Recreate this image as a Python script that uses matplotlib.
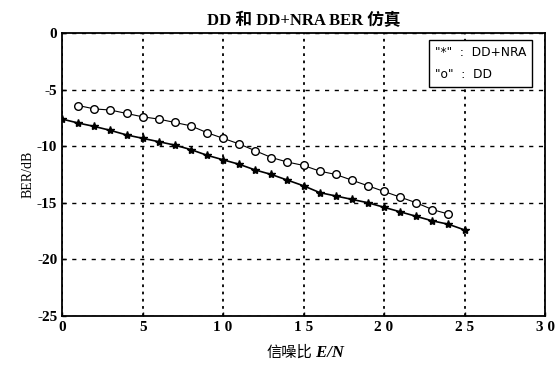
import numpy as np
import matplotlib
matplotlib.use('Agg')
import matplotlib.pyplot as plt

plt.rcParams['font.family'] = ['Liberation Serif', 'Noto Sans CJK SC', 'DejaVu Sans']

# datos
x_nra = list(range(0, 26))
ber_nra = [-7.6, -7.95, -8.25, -8.6, -9.0, -9.3, -9.6, -9.9, -10.3, -10.8,
           -11.2, -11.6, -12.1, -12.5, -13.0, -13.5, -14.1, -14.4, -14.7, -15.0,
           -15.4, -15.8, -16.2, -16.6, -16.9, -17.4]
x_dd = list(range(1, 25))
ber_dd = [-6.4, -6.7, -6.8, -7.1, -7.4, -7.6, -7.9, -8.2, -8.8, -9.3,
          -9.8, -10.4, -11.0, -11.4, -11.7, -12.2, -12.5, -13.0, -13.5, -14.0,
          -14.5, -15.0, -15.6, -16.0]
xticks = [0, 5, 10, 15, 20, 25, 30]
xtick_labels = ['0', '5', '1 0', '1 5', '2 0', '2 5', '3 0']
yticks = [0, -5, -10, -15, -20, -25]

fig = plt.figure(figsize=(5.55, 3.81), dpi=100)
ax = fig.add_axes([0.112, 0.171, 0.870, 0.742])

ax.plot(x_nra, ber_nra, 'k-', linewidth=1.2, marker='*', markersize=6,
        markerfacecolor='k', markeredgecolor='k')
ax.plot(x_dd, ber_dd, 'k-', linewidth=0.8, marker='o', markersize=5.5,
        markerfacecolor='white', markeredgecolor='k', markeredgewidth=1.0)

ax.set_xlim(0, 30)
ax.set_ylim(-25, 0)
ax.set_xticks(xticks)
ax.set_xticklabels(xtick_labels, fontsize=11, fontweight='bold')
ax.set_yticks(yticks)
ax.set_yticklabels([str(v) for v in yticks], fontsize=11, fontweight='bold')
ax.tick_params(direction='in', length=3, width=1, colors='k')

ax.xaxis.grid(True, linestyle=(0, (1.5, 2.5)), color='k', linewidth=1.3)
ax.yaxis.grid(True, linestyle=(0, (3, 4)), color='k', linewidth=1.0)
for s in ax.spines.values():
    s.set_linewidth(1.3)

ax.set_title('DD 和 DD+NRA BER 仿真', fontsize=12, fontweight='bold', pad=6)
ax.set_ylabel('BER/dB', fontsize=10, labelpad=2)
ax.set_xlabel('信噪比', fontsize=11, labelpad=10,
              family=['Noto Sans CJK SC', 'DejaVu Sans'])
ax.xaxis.set_label_coords(0.47, -0.1)
ax.annotate(' E/N', xy=(1, 0), xycoords=ax.xaxis.label, ha='left', va='bottom',
            fontsize=12, fontstyle='italic', fontweight='bold')

ax.text(0.772, 0.955, '"*"  :  DD+NRA\n"o"  :  DD', transform=ax.transAxes,
        ha='left', va='top', fontsize=8.8, family='DejaVu Sans', linespacing=1.9,
        multialignment='left',
        bbox=dict(boxstyle='square,pad=0.5', facecolor='white', edgecolor='k',
                  linewidth=1.0))

fig.savefig('out.png', dpi=100)
